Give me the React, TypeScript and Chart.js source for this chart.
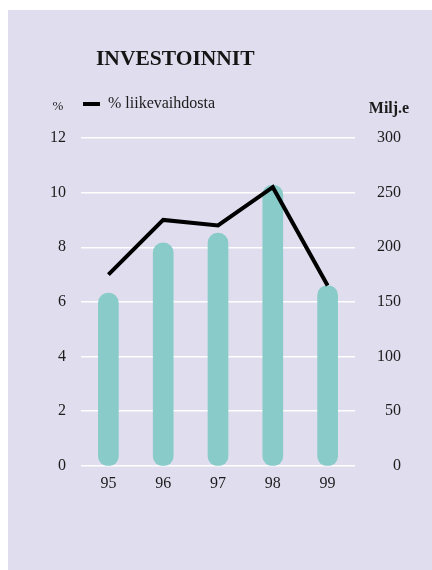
import React, { useEffect, useRef } from 'react';
import { Chart, registerables } from 'chart.js';

Chart.register(...registerables);

const FONT = "'Liberation Serif', 'Times New Roman', serif";

const categories = ['95', '96', '97', '98', '99'];
const investmentsMEUR = [158, 204, 213, 257, 165];
const pctOfRevenue = [7.0, 9.0, 8.8, 10.2, 6.6];
const leftTickValues = [0, 2, 4, 6, 8, 10, 12];
const rightTickValues = [0, 50, 100, 150, 200, 250, 300];

const titleText = 'INVESTOINNIT';
const lineLabel = '% liikevaihdosta';
const barLabel = 'Investoinnit, Milj.e';
const leftUnit = '%';
const rightUnit = 'Milj.e';

const BG = '#e0ddee';
const BAR = '#88cbc8';
const INK = '#1c1c1c';

const legendGap = {
  id: 'legendGap',
  beforeLayout(chart: any) {
    const lg = chart.legend;
    if (lg && !lg._gapPatched) {
      const fit = lg.fit;
      lg.fit = function () {
        fit.call(this);
        this.height += 16;
      };
      lg._gapPatched = true;
    }
  },
};

const unitLabels = {
  id: 'unitLabels',
  afterDraw(chart: any) {
    const ctx = chart.ctx;
    const y = chart.scales.y;
    const y1 = chart.scales.y1;
    ctx.save();
    ctx.font = `16px ${FONT}`;
    const widest = (s: any) =>
      Math.max(...s.ticks.map((t: any) => ctx.measureText(String(t.label)).width));
    const lx = y.right - y.options.ticks.padding - widest(y) / 2;
    const rx = y1.right - widest(y1) / 2;
    ctx.textAlign = 'center';
    ctx.textBaseline = 'middle';
    ctx.fillStyle = INK;
    ctx.font = `13px ${FONT}`;
    ctx.fillText(leftUnit, lx, chart.chartArea.top - 31);
    ctx.font = `bold 16px ${FONT}`;
    ctx.fillText(rightUnit, rx, chart.chartArea.top - 29);
    ctx.restore();
  },
};

export default function App() {
  const ref = useRef<HTMLCanvasElement | null>(null);

  useEffect(() => {
    if (!ref.current) return;
    const chart = new Chart(ref.current, {
      type: 'bar',
      data: {
        labels: categories,
        datasets: [
          {
            type: 'line',
            label: lineLabel,
            data: pctOfRevenue,
            yAxisID: 'y',
            borderColor: '#000',
            backgroundColor: '#000',
            borderWidth: 4,
            pointRadius: 0,
            tension: 0,
            borderJoinStyle: 'miter',
          } as any,
          {
            type: 'bar',
            label: barLabel,
            data: investmentsMEUR,
            yAxisID: 'y1',
            backgroundColor: BAR,
            borderWidth: 0,
            barThickness: 20,
            borderRadius: 10,
            borderSkipped: false,
          } as any,
        ],
      },
      options: {
        responsive: false,
        animation: false,
        layout: { padding: { top: 84, right: 31, bottom: 69, left: 0 } },
        plugins: {
          tooltip: { enabled: false },
          title: { display: false },
          legend: {
            display: true,
            position: 'top',
            align: 'start',
            fullSize: false,
            labels: {
              usePointStyle: true,
              pointStyle: 'line',
              pointStyleWidth: 17,
              padding: 2,
              color: INK,
              font: { family: FONT, size: 16 },
              filter: (item: any) => item.datasetIndex === 0,
            },
          },
        },
        scales: {
          x: {
            offset: true,
            grid: { display: false, drawTicks: false },
            border: { display: false },
            ticks: { color: INK, font: { family: FONT, size: 16 }, padding: 8 },
          },
          y: {
            position: 'left',
            min: leftTickValues[0],
            max: leftTickValues[leftTickValues.length - 1],
            ticks: {
              stepSize: leftTickValues[1] - leftTickValues[0],
              color: INK,
              font: { family: FONT, size: 16 },
              padding: 15,
            },
            grid: { color: 'rgba(255,255,255,0.95)', lineWidth: 1.5, drawTicks: false },
            border: { display: false },
            afterFit: (s: any) => {
              s.width = 73;
            },
          },
          y1: {
            position: 'right',
            min: rightTickValues[0],
            max: rightTickValues[rightTickValues.length - 1],
            ticks: {
              stepSize: rightTickValues[1] - rightTickValues[0],
              color: INK,
              font: { family: FONT, size: 16 },
              crossAlign: 'far',
              padding: 10,
            },
            grid: { display: false, drawTicks: false },
            border: { display: false },
            afterFit: (s: any) => {
              s.width = 46;
            },
          },
        },
      } as any,
      plugins: [legendGap, unitLabels],
    });
    return () => chart.destroy();
  }, []);

  return (
    <div
      style={{
        position: 'absolute',
        left: 8,
        top: 10,
        width: 424,
        height: 560,
        background: BG,
      }}
    >
      <canvas ref={ref} width={424} height={560} style={{ display: 'block' }} />
      <div
        style={{
          position: 'absolute',
          left: 88,
          top: 36,
          fontFamily: FONT,
          fontWeight: 'bold',
          fontSize: '21.5px',
          color: '#151515',
          whiteSpace: 'nowrap',
        }}
      >
        {titleText}
      </div>
    </div>
  );
}
